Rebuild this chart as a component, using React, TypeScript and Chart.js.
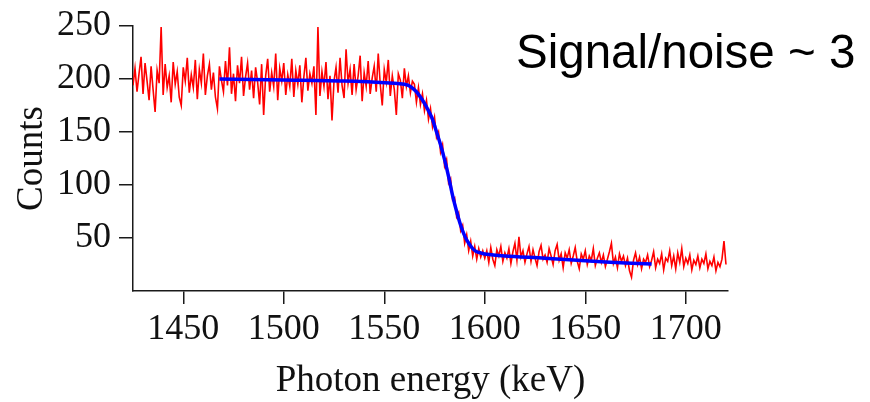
import React, { useEffect, useRef } from "react";
import { Chart, registerables } from "chart.js";

Chart.register(...registerables);

// ---- data ----
const START_ENERGY = 1425; // keV of the first measured sample, samples 1 keV apart
const measuredCounts: number[] = [
  // 1425-1564 (plateau)
  194, 210, 188, 205, 221, 186, 215, 198, 180, 212,
  190, 169, 208, 196, 249, 185, 214, 192, 203, 178,
  216, 195, 207, 183, 175, 211, 198, 220, 187, 204,
  192, 218, 181, 209, 196, 224, 185, 203, 214, 190,
  206, 183, 172, 212, 199, 188, 217, 194, 230, 186,
  205, 179, 213, 196, 221, 184, 202, 215, 190, 208,
  182, 211, 197, 176, 214, 166, 203, 219, 188, 206,
  193, 224, 180, 210, 198, 215, 185, 204, 193, 219,
  183, 208, 195, 213, 178, 202, 220, 189, 205, 196,
  212, 166, 249, 184, 207, 193, 216, 181, 203, 161,
  198, 211, 187, 220, 194, 182, 228, 196, 209, 185,
  214, 190, 203, 222, 179, 206, 193, 217, 186, 201,
  212, 188, 224, 195, 175, 209, 197, 218, 184, 203,
  190, 166, 205, 199, 182, 210, 193, 203, 187, 198,
  // 1565-1600 (edge)
  195, 178, 192, 176, 186, 170, 180, 162, 172, 155,
  164, 145, 150, 131, 138, 118, 124, 102, 106, 86,
  88, 70, 74, 57, 62, 45, 53, 38, 47, 33,
  42, 30, 40, 32, 38, 31,
  // 1601-1720 (tail)
  38, 27, 41, 30, 24, 39, 33, 42, 28, 36,
  31, 40, 26, 37, 45, 29, 51, 32, 38, 27,
  35, 42, 28, 39, 31, 24, 37, 43, 30, 34,
  27, 40, 33, 25, 38, 44, 29, 35, 22, 36,
  31, 39, 26, 33, 41, 28, 21, 35, 30, 38,
  25, 33, 29, 40, 24, 31, 36, 27, 34, 23,
  30, 37, 45, 26, 32, 22, 35, 28, 33, 24,
  31, 19, 13, 29, 36, 25, 32, 21, 30, 27,
  34, 23, 29, 37, 22, 30, 26, 35, 20, 31,
  28, 38, 24, 33, 21, 36, 27, 40, 23, 31,
  26, 34, 20, 29, 25, 33, 22, 30, 26, 35,
  21, 28, 24, 32, 19, 27, 23, 30, 47, 25,
];

const fitEnergy: number[] = [
  1468, 1500, 1530, 1555, 1560, 1563, 1566, 1568, 1570, 1572, 1574, 1576,
  1578, 1580, 1582, 1584, 1586, 1588, 1590, 1592, 1594, 1596, 1598, 1600,
  1610, 1630, 1650, 1670, 1683,
];
const fitCounts: number[] = [
  200, 199, 198, 196, 195, 193, 188, 183, 177, 170, 162, 150,
  138, 124, 108, 90, 75, 62, 52, 45, 40, 37, 36, 35,
  33, 31, 28.5, 26.5, 25.5,
];

const xTicks = [1450, 1500, 1550, 1600, 1650, 1700];
const yTicks = [50, 100, 150, 200, 250];
const X_MIN = 1425;
const X_MAX = 1721;
const Y_MIN = 0;
const Y_MAX = 250;
const xLabel = "Photon energy (keV)";
const yLabel = "Counts";
const annotation = "Signal/noise ~ 3";

const SERIF = "'Liberation Serif', 'Times New Roman', serif";
const AXIS = "#1a1a1a";

export default function App() {
  const canvasRef = useRef<HTMLCanvasElement | null>(null);

  useEffect(() => {
    const canvas = canvasRef.current;
    if (!canvas) return;
    const measured = measuredCounts.map((c, i) => ({ x: START_ENERGY + i, y: c }));
    const fit = fitEnergy.map((e, i) => ({ x: e, y: fitCounts[i] }));
    const tickFont = { family: SERIF, size: 36, lineHeight: 1 };
    const titleFont = { family: SERIF, size: 37, lineHeight: 1.1 };

    const chart = new Chart(canvas, {
      type: "line",
      data: {
        datasets: [
          {
            label: "fit",
            data: fit,
            borderColor: "#0000ff",
            borderWidth: 3.5,
            pointRadius: 0,
            tension: 0.3,
            order: 0,
          },
          {
            label: "measured",
            data: measured,
            borderColor: "#ff0000",
            borderWidth: 1.6,
            pointRadius: 0,
            tension: 0,
            order: 1,
          },
        ],
      },
      options: {
        responsive: false,
        animation: false,
        events: [],
        layout: { padding: { left: 0, top: 19, right: 142, bottom: 0 } },
        plugins: { legend: { display: false }, tooltip: { enabled: false } },
        scales: {
          x: {
            type: "linear",
            min: X_MIN,
            max: X_MAX,
            afterBuildTicks: (s: any) => {
              s.ticks = xTicks.map((v) => ({ value: v }));
            },
            afterFit: (s: any) => {
              s.height = 111;
            },
            ticks: {
              font: tickFont,
              color: "#111",
              padding: 8,
              maxRotation: 0,
              autoSkip: false,
              callback: (v: any) => String(v),
            },
            grid: {
              display: true,
              drawOnChartArea: false,
              drawTicks: true,
              tickLength: 13,
              color: AXIS,
              lineWidth: 1.5,
            },
            border: { display: true, color: AXIS, width: 1.5 },
            title: {
              display: true,
              text: xLabel,
              font: titleFont,
              color: "#111",
              padding: { top: 0, bottom: 0 },
            },
          },
          y: {
            type: "linear",
            min: Y_MIN,
            max: Y_MAX,
            afterBuildTicks: (s: any) => {
              s.ticks = yTicks.map((v) => ({ value: v }));
            },
            afterFit: (s: any) => {
              s.width = 133;
            },
            ticks: {
              font: tickFont,
              color: "#111",
              padding: 8,
              autoSkip: false,
              callback: (v: any) => String(v),
            },
            grid: {
              display: true,
              drawOnChartArea: false,
              drawTicks: true,
              tickLength: 14,
              color: AXIS,
              lineWidth: 1.5,
            },
            border: { display: true, color: AXIS, width: 1.5 },
            title: {
              display: true,
              text: yLabel,
              font: titleFont,
              color: "#111",
              padding: { top: 12, bottom: 0 },
            },
          },
        },
      },
    });
    return () => chart.destroy();
  }, []);

  return (
    <div style={{ position: "fixed", left: 0, top: 0, width: 870, height: 402, background: "#fff" }}>
      <canvas ref={canvasRef} width={870} height={402} style={{ display: "block", width: 870, height: 402 }} />
      <div
        style={{
          position: "absolute",
          left: 516,
          top: 28,
          fontFamily: "'Liberation Sans', Arial, sans-serif",
          fontSize: 47.5,
          lineHeight: "48px",
          color: "#000",
          whiteSpace: "nowrap",
        }}
      >
        {annotation}
      </div>
    </div>
  );
}
